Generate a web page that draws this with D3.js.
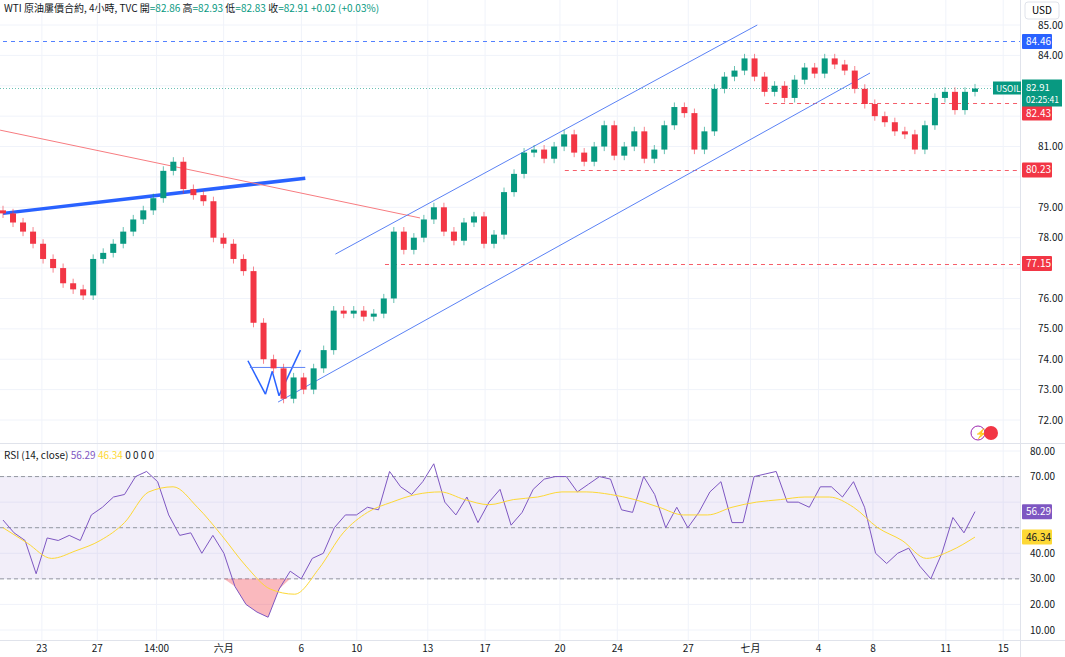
<!DOCTYPE html>
<html><head><meta charset="utf-8">
<script src="https://cdn.jsdelivr.net/npm/d3@7/dist/d3.min.js"></script>
<style>body{margin:0;background:#fff;font-family:"Noto Sans CJK TC","Noto Sans",sans-serif}</style>
</head><body><svg id="c" width="1065" height="657"></svg>
<script>
const closes=[78.8,78.5,78.2,77.8,77.3,77.0,76.5,76.3,76.1,77.3,77.5,77.8,78.2,78.6,78.9,79.3,80.2,80.5,79.6,79.4,79.2,78.0,77.8,77.3,76.9,75.2,74.0,73.7,72.7,73.4,73.0,73.7,74.3,75.6,75.5,75.6,75.4,75.5,76.0,78.2,77.6,78.0,78.6,79.0,78.2,77.9,78.5,78.7,77.8,78.1,79.5,80.1,80.8,80.9,80.6,81.0,81.4,80.8,80.5,81.0,81.7,80.7,81.0,81.5,80.6,80.9,81.7,82.3,82.1,80.9,81.5,82.9,83.3,83.5,83.9,83.3,82.8,83.0,82.6,83.2,83.6,83.4,83.9,83.7,83.5,82.9,82.4,82.0,81.8,81.5,81.4,80.9,81.7,82.6,82.8,82.2,82.8,82.91];
const rsi=[53,48,45,32,46,45,47,45,55,58,62,63,70,72,68,55,47,48,40,47,40,27,20,17,15,26,33,30,38,40,50,55,55,58,57,72,66,63,68,75,60,55,62,52,60,65,51,56,65,69,70,70,64,67,70,69,57,56,70,63,50,58,50,56,64,68,52,52,70,71,72,60,60,58,66,66,62,68,58,40,36,40,42,35,30,40,54,48,56.29];
const rsiMa=[50,44,38,41,45,52,64,66,58,47,35,26,24,34,48,56,60,63,64,61,59,61,62,64,64,63,61,58,55,55,58,60,61,62,62,58,50,45,38,41,46.34];
const tickLabels=["23","27","14:00","六月","6","10","13","17","20","24","27","七月","4","8","11","15"];
const tickPos=[0.04,0.097,0.158,0.227,0.307,0.364,0.437,0.496,0.573,0.632,0.705,0.769,0.839,0.895,0.97,1.029];
const priceTicks=[72,73,74,75,76,77,78,79,80,81,82,83,84,85];
const rsiTicks=[10,20,30,40,50,60,70,80];
const levels=[{p:84.46,c:"#2962ff",from:0},{p:82.43,c:"#f23645",from:0.784},{p:80.23,c:"#f23645",from:0.578},{p:77.15,c:"#f23645",from:0.393}];
const trendlines=[{a:[0,78.8],b:[0.311,79.96],c:"#2962ff",w:3.5},{a:[-0.003,81.54],b:[0.429,78.65],c:"#f77c80",w:1},{a:[0.342,77.46],b:[0.776,85.0],c:"#5b82f5",w:1},{a:[0.283,72.59],b:[0.892,83.42],c:"#5b82f5",w:1},
 {a:[0.252,73.95],b:[0.27,72.85],c:"#2962ff",w:1.5},{a:[0.27,72.85],b:[0.277,73.6],c:"#2962ff",w:1.5},{a:[0.277,73.6],b:[0.284,72.8],c:"#2962ff",w:1.5},{a:[0.284,72.8],b:[0.306,74.3],c:"#2962ff",w:1.5},{a:[0.254,73.73],b:[0.311,73.73],c:"#5b82f5",w:1}];

const svg=d3.select("#c");
const W=1020;
const fx=d3.scaleLinear().domain([0,1]).range([3,975]);
const y=d3.scaleLinear().domain([72,85]).range([420,25]);
const yr=d3.scaleLinear().domain([10,80]).range([630,451]);
const idx=i=>fx(i/(closes.length-1));
svg.append("g").selectAll("line").data(tickPos).join("line").attr("x1",d=>fx(d)).attr("x2",d=>fx(d)).attr("y1",0).attr("y2",640).attr("stroke","#f0f3fa");
svg.append("g").selectAll("line").data(priceTicks).join("line").attr("x1",0).attr("x2",W).attr("y1",d=>y(d)).attr("y2",d=>y(d)).attr("stroke","#f0f3fa");
svg.append("g").selectAll("line").data(rsiTicks).join("line").attr("x1",0).attr("x2",W).attr("y1",d=>yr(d)).attr("y2",d=>yr(d)).attr("stroke","#f0f3fa");
svg.append("line").attr("x1",0).attr("x2",1065).attr("y1",443.5).attr("y2",443.5).attr("stroke","#e0e3eb");
svg.append("line").attr("x1",W+.5).attr("x2",W+.5).attr("y1",0).attr("y2",657).attr("stroke","#e0e3eb");
svg.append("line").attr("x1",0).attr("x2",1065).attr("y1",640.5).attr("y2",640.5).attr("stroke","#e0e3eb");
svg.append("rect").attr("x",0).attr("width",W).attr("y",yr(70)).attr("height",yr(30)-yr(70)).attr("fill","#7e57c2").attr("opacity",0.1);
[70,50,30].forEach(v=>svg.append("line").attr("x1",0).attr("x2",W).attr("y1",yr(v)).attr("y2",yr(v)).attr("stroke","#9598a1").attr("stroke-dasharray","4,3"));
levels.forEach(l=>svg.append("line").attr("x1",fx(l.from)).attr("x2",W).attr("y1",Math.round(y(l.p))+.5).attr("y2",Math.round(y(l.p))+.5).attr("stroke",l.c).attr("stroke-opacity",0.8).attr("stroke-dasharray","4,4"));
svg.append("line").attr("x1",0).attr("x2",W).attr("y1",y(82.91)).attr("y2",y(82.91)).attr("stroke","#089981").attr("stroke-dasharray","1,2").attr("opacity",0.6);
trendlines.forEach(t=>svg.append("line").attr("x1",fx(t.a[0])).attr("y1",y(t.a[1])).attr("x2",fx(t.b[0])).attr("y2",y(t.b[1])).attr("stroke",t.c).attr("stroke-width",t.w));
const cand=closes.map((c,i)=>{const o=i?closes[i-1]:c+0.1;return{i,o,c,h:Math.max(o,c)+0.15,l:Math.min(o,c)-0.15};});
const g=svg.append("g");
cand.forEach(d=>{const col=d.c>=d.o?"#089981":"#f23645";const x=idx(d.i);
 g.append("line").attr("x1",x).attr("x2",x).attr("y1",y(d.h)).attr("y2",y(d.l)).attr("stroke",col).attr("opacity",0.6);
 g.append("rect").attr("x",x-3).attr("width",6).attr("y",y(Math.max(d.o,d.c))).attr("height",Math.max(1,Math.abs(y(d.o)-y(d.c)))).attr("fill",col);});
const rx=i=>fx(i/(rsi.length-1));
svg.append("path").datum(rsi.map((v,i)=>({i,v}))).attr("fill","#f23645").attr("opacity",0.35)
 .attr("d",d3.area().x(d=>rx(d.i)).y0(yr(30)).y1(d=>yr(Math.min(30,d.v))));
svg.append("path").datum(rsi).attr("fill","none").attr("stroke","#7e57c2").attr("stroke-width",1).attr("d",d3.line().x((d,i)=>rx(i)).y(d=>yr(d)));
svg.append("path").datum(rsiMa).attr("fill","none").attr("stroke","#fdd835").attr("stroke-width",1).attr("d",d3.line().curve(d3.curveMonotoneX).x((d,i)=>fx(i/(rsiMa.length-1))).y(d=>yr(d)));
const badgeYs=[y(84.46),y(82.91)+5,y(82.43)+10,y(80.23),y(77.15)];
const rBadgeYs=[yr(56.29),yr(46.34)];
const ax=svg.append("g").attr("font-size",10).attr("fill","#131722");
priceTicks.filter(p=>badgeYs.every(b=>Math.abs(b-y(p))>12)).forEach(p=>ax.append("text").attr("x",1038).attr("y",y(p)+3.5).text(p.toFixed(2)));
rsiTicks.filter(p=>rBadgeYs.every(b=>Math.abs(b-yr(p))>12)).forEach(p=>ax.append("text").attr("x",1030).attr("y",yr(p)+3.5).text(p.toFixed(2)));
tickPos.forEach((p,i)=>ax.append("text").attr("x",fx(p)).attr("y",652).attr("text-anchor","middle").text(tickLabels[i]));
svg.append("rect").attr("x",1025).attr("y",2).attr("width",34).attr("height",17).attr("rx",3).attr("fill","#fff").attr("stroke","#e0e3eb");
svg.append("text").attr("x",1032).attr("y",14).attr("font-size",10).text("USD");
function badge(yy,col,txt,fg){svg.append("rect").attr("x",1022).attr("y",yy-7.5).attr("width",30).attr("height",15).attr("fill",col).attr("rx",1);
 svg.append("text").attr("x",1026).attr("y",yy+3.5).attr("font-size",10).attr("fill",fg||"#fff").text(txt);}
badge(y(84.46),"#2962ff","84.46");
badge(y(80.23),"#f23645","80.23");
badge(y(77.15),"#f23645","77.15");
badge(y(82.43)+10,"#f23645","82.43");
svg.append("rect").attr("x",1022).attr("y",y(82.91)-9).attr("width",40).attr("height",27).attr("fill","#089981");
svg.append("text").attr("x",1026).attr("y",y(82.91)+2).attr("font-size",9.5).attr("fill","#fff").text("82.91");
svg.append("text").attr("x",1026).attr("y",y(82.91)+14.5).attr("font-size",8.5).attr("fill","#fff").text("02:25:41");
svg.append("rect").attr("x",993).attr("y",y(82.91)-7).attr("width",28).attr("height",13).attr("fill","#089981");
svg.append("text").attr("x",996).attr("y",y(82.91)+3).attr("font-size",8.5).attr("fill","#fff").text("USOIL");
badge(yr(56.29),"#7e57c2","56.29");
badge(yr(46.34),"#fdd835","46.34","#131722");
const hd=svg.append("text").attr("x",4).attr("y",12).attr("font-size",10).attr("fill","#131722");
hd.append("tspan").text("WTI 原油屢價合約, 4小時, TVC  開");
[["=82.86 ","#089981"],["高",null],["=82.93 ","#089981"],["低",null],["=82.83 ","#089981"],["收",null],["=82.91 +0.02 (+0.03%)","#089981"]].forEach(s=>{const t=hd.append("tspan").text(s[0]);if(s[1])t.attr("fill",s[1]);});
const rh=svg.append("text").attr("x",4).attr("y",459).attr("font-size",10).attr("fill","#131722");
rh.append("tspan").text("RSI (14, close) ");
rh.append("tspan").attr("fill","#7e57c2").text("56.29 ");
rh.append("tspan").attr("fill","#fdd835").text("46.34 ");
rh.append("tspan").text(" 0  0  0  0");
svg.append("circle").attr("cx",978).attr("cy",433).attr("r",7).attr("fill","none").attr("stroke","#9c27b0");
svg.append("text").attr("x",975).attr("y",437).attr("font-size",10).attr("fill","#9c27b0").text("⚡");
svg.append("circle").attr("cx",991).attr("cy",433).attr("r",7).attr("fill","#f23645");
</script></body></html>
